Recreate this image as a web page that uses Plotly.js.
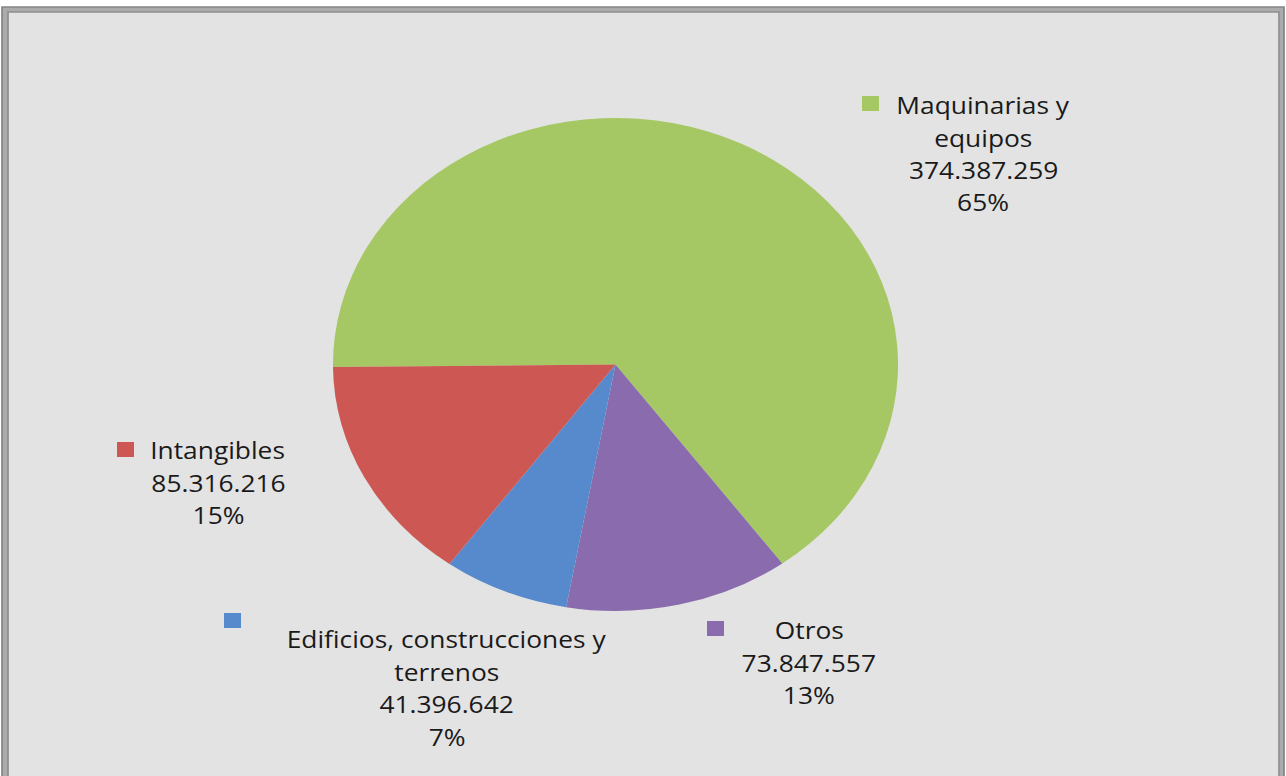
<!DOCTYPE html>
<html><head><meta charset="utf-8">
<script src="https://cdn.plot.ly/plotly-3.0.1.min.js"></script>
<style>
html,body{margin:0;padding:0;background:#fff;overflow:hidden;}
#chart{width:1122px;height:776px;transform:scaleX(1.14617);transform-origin:0 0;}
</style></head>
<body><div id="chart"></div>
<script>
// ---- data ----
const categories = ['Maquinarias y equipos', 'Otros', 'Edificios, construcciones y terrenos', 'Intangibles'];
const values = [374387259, 73847557, 41396642, 85316216];
const colors = ['#a5c864', '#8a6bae', '#568acc', '#cc5753'];
const labelLines = [['Maquinarias y', 'equipos'], ['Otros'], ['Edificios, construcciones y', 'terrenos'], ['Intangibles']];

// ---- layout helpers (reference pixel positions, before horizontal stretch) ----
const S = 1.14617, W = 1122, H = 776;
const labelPos = [
  {cx: 983, y0: 105, sx: 862, sy: 96},
  {cx: 809, y0: 630, sx: 707, sy: 621},
  {cx: 447, y0: 639, sx: 224, sy: 613},
  {cx: 218, y0: 450, sx: 117, sy: 442}
];
const lineGap = 32.5;
const px = x => (x / S) / W;
const py = y => 1 - y / H;

const total = values.reduce((a, b) => a + b, 0);
const fmt = v => String(v).replace(/\B(?=(\d{3})+(?!\d))/g, '.');

const annotations = [];
const shapes = [
  {type: 'rect', xref: 'paper', yref: 'paper', layer: 'below',
   x0: px(2), x1: px(1284), y0: py(7), y1: py(790),
   fillcolor: '#ababab', line: {color: '#858585', width: 1.5}},
  {type: 'rect', xref: 'paper', yref: 'paper', layer: 'below',
   x0: px(8), x1: px(1279), y0: py(12), y1: py(790),
   fillcolor: '#e3e3e3', line: {color: '#909090', width: 1.5}}
];

categories.forEach((c, i) => {
  const p = labelPos[i];
  const lines = labelLines[i].concat([fmt(values[i]), Math.round(values[i] / total * 100) + '%']);
  lines.forEach((t, k) => {
    annotations.push({
      xref: 'paper', yref: 'paper', x: px(p.cx), y: py(p.y0 + k * lineGap),
      xanchor: 'center', yanchor: 'middle', showarrow: false, text: t,
      font: {family: 'Open Sans, sans-serif', size: 23, color: '#1a1a1a'}
    });
  });
  shapes.push({type: 'rect', xref: 'paper', yref: 'paper', layer: 'above',
    x0: px(p.sx), x1: px(p.sx + 17), y0: py(p.sy), y1: py(p.sy + 15),
    fillcolor: colors[i], line: {width: 0}});
});

const cx = 615.5, cy = 364.5, r = 246.5;
const trace = {
  type: 'pie', values: values, labels: categories, sort: false,
  direction: 'clockwise', rotation: 269.4,
  marker: {colors: colors, line: {width: 0}},
  textinfo: 'none', hoverinfo: 'none', showlegend: false,
  domain: {x: [(cx / S - r) / W, (cx / S + r) / W], y: [1 - (cy + r) / H, 1 - (cy - r) / H]}
};

Plotly.newPlot('chart', [trace], {
  width: W, height: H, margin: {l: 0, r: 0, t: 0, b: 0},
  paper_bgcolor: '#ffffff', showlegend: false,
  shapes: shapes, annotations: annotations
}, {staticPlot: true, displayModeBar: false});
</script>
</body></html>
